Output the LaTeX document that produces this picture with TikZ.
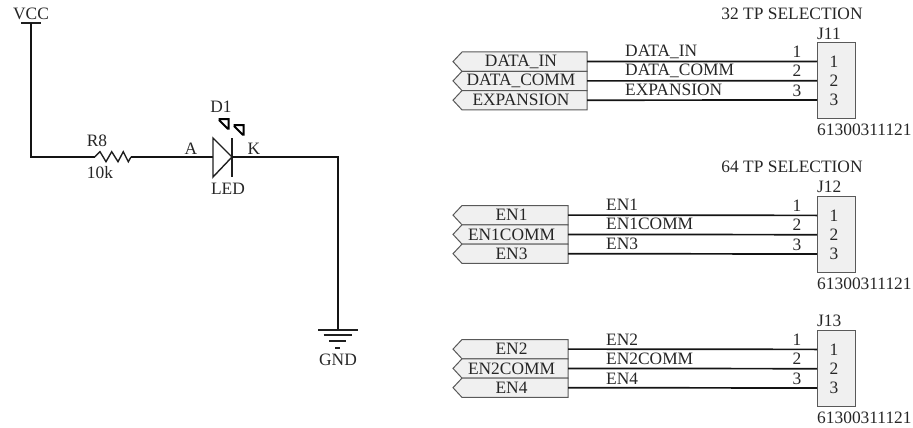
\documentclass[tikz,border=0pt]{standalone}
\usepackage{fontspec}
\setmainfont{Liberation Serif}
\tikzset{
  x=1pt,y=-1pt,
  wire/.style={line width=1.7pt,draw=black!92,line join=miter},
  part/.style={line width=1.4pt,draw=black!88},
  glow/.style={line width=2pt,draw=black,line join=miter},
  lab/.style={inner sep=0pt,font=\fontsize{17.4}{19}\selectfont,text=black!85},
  tag/.style={draw=black!65,line width=1pt,fill=black!6},
  boxc/.style={draw=black!65,line width=1pt,fill=black!6},
}
\newcommand{\porttag}[5]{% name, top y, text, tip x, right x
  \draw[tag] (#4+9,#2) -- (#5,#2) -- (#5,#2+19.3) -- (#4+9,#2+19.3) -- (#4,#2+9.6) -- cycle;
  \node[lab] (#1) at ({(#4+#5+2)/2},#2+9.6) {#3};
  \coordinate (#1w) at (#5,#2+9.6);
}
\newcommand{\header}[2]{% name, top y
  \node[boxc,minimum width=38pt,minimum height=76pt,inner sep=0pt,anchor=north west] (#1) at (817,#2) {};
  \node[lab] (#1a) at (834,#2+19.5) {1};
  \node[lab] (#1b) at (834,#2+38.5) {2};
  \node[lab] (#1c) at (834,#2+58) {3};
  \node[lab,anchor=west] (#1m) at (817,#2+88) {61300311121};
  \coordinate (#1p1) at (817,#2+19.4);
  \coordinate (#1p2) at (817,#2+38.7);
  \coordinate (#1p3) at (817,#2+58);
  \node[lab] (#1n1) at (797,#2+10) {1};
  \node[lab] (#1n2) at (797,#2+29) {2};
  \node[lab] (#1n3) at (797,#2+48.5) {3};
}
\begin{document}
\begin{tikzpicture}
\useasboundingbox (0,0) rectangle (913,428);
% VCC
\node[lab] (vcc) at (31,14) {VCC};
\coordinate (vt) at (31,23);
\coordinate (vl) at (21,23);
\coordinate (vr) at (41,23);
\draw[part] (vl) -- (vr);
\coordinate (rl) at (94.7,157);
\coordinate (rr) at (131,157);
\draw[wire] (vt) -- (31,157) -- (rl);
\draw[part] (rl) -- (100,151.7) -- (106,161.7) -- (111.7,151.7) -- (118,161.7) -- (123.3,151.7) -- (128.3,161.7) -- (rr);
\node[lab] (r8) at (97,141) {R8};
\node[lab] (r10k) at (100,173) {10k};
% LED
\coordinate (la) at (213,157);
\coordinate (lk) at (232,157);
\draw[wire] (rr) -- (la);
\draw[part] (213,138) -- (213,177) -- (lk) -- cycle;
\draw[part] (232,138) -- (232,177);
\draw[glow] (218.5,119) -- (228.5,119) -- (228.5,129.5) (219,120) -- (228,129);
\draw[glow] (233.5,125) -- (243.5,125) -- (243.5,135.5) (234,126) -- (243,135);
\node[lab] (d1) at (221,107) {D1};
\node[lab] (led) at (228,189) {LED};
\node[lab] (a) at (191,149) {A};
\node[lab] (k) at (254,149) {K};
% GND
\coordinate (gt) at (338,330);
\draw[wire] (lk) -- (338,157) -- (gt);
\draw[part] (318,330) -- (358,330) (323.5,335) -- (352,335) (329,341) -- (346,341) (335,348) -- (340,348);
\node[lab] (gnd) at (338,360) {GND};
% Group 1
\node[lab] (t1) at (792,14) {32 TP SELECTION};
\node[lab,anchor=west] (j11) at (817,34) {J11};
\header{ja}{42}
\porttag{pa}{52}{DATA\_IN}{453}{587}
\porttag{pb}{71.3}{DATA\_COMM}{453}{587}
\porttag{pc}{90.6}{EXPANSION}{453}{587}
\draw[wire] (paw) -- (jap1);
\draw[wire] (pbw) -- (jap2);
\draw[wire] (pcw) -- (jap3);
\node[lab,anchor=west] (la1) at (625,52) {DATA\_IN};
\node[lab,anchor=west] (la2) at (625,71) {DATA\_COMM};
\node[lab,anchor=west] (la3) at (625,90) {EXPANSION};
% Group 2
\node[lab] (t2) at (792,167) {64 TP SELECTION};
\node[lab,anchor=west] (j12) at (817,187) {J12};
\header{jb}{196}
\porttag{pd}{205.5}{EN1}{453}{568}
\porttag{pe}{224.8}{EN1COMM}{453}{568}
\porttag{pf}{244.1}{EN3}{453}{568}
\draw[wire] (pdw) -- (jbp1);
\draw[wire] (pew) -- (jbp2);
\draw[wire] (pfw) -- (jbp3);
\node[lab,anchor=west] (lb1) at (606,205) {EN1};
\node[lab,anchor=west] (lb2) at (606,224) {EN1COMM};
\node[lab,anchor=west] (lb3) at (606,244) {EN3};
% Group 3
\node[lab,anchor=west] (j13) at (817,321) {J13};
\header{jc}{330}
\porttag{pg}{339.5}{EN2}{453}{568}
\porttag{ph}{358.8}{EN2COMM}{453}{568}
\porttag{pi}{378.1}{EN4}{453}{568}
\draw[wire] (pgw) -- (jcp1);
\draw[wire] (phw) -- (jcp2);
\draw[wire] (piw) -- (jcp3);
\node[lab,anchor=west] (lc1) at (606,340) {EN2};
\node[lab,anchor=west] (lc2) at (606,359) {EN2COMM};
\node[lab,anchor=west] (lc3) at (606,379) {EN4};
\end{tikzpicture}
\end{document}
